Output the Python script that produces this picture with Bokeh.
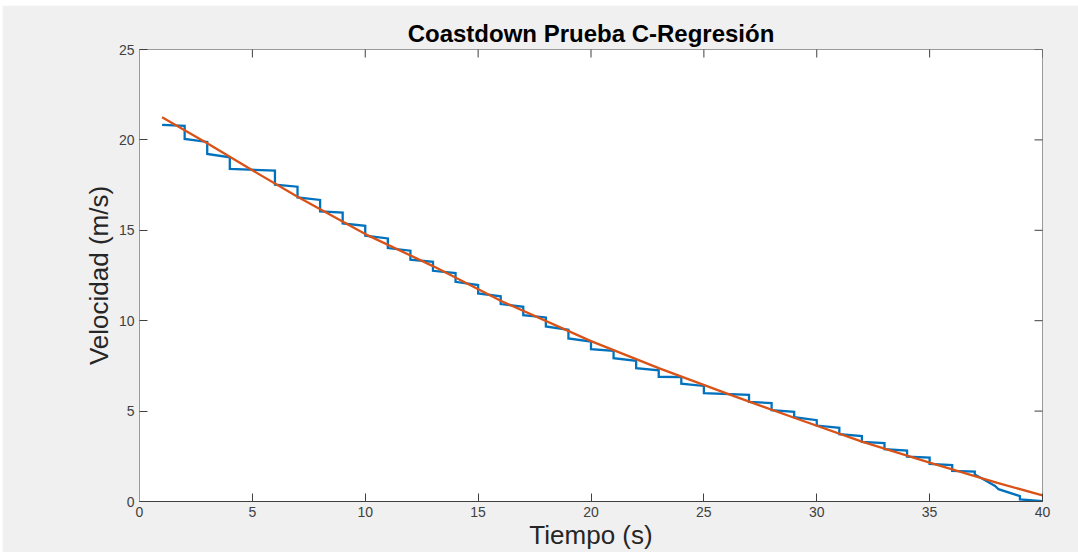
import math
from bokeh.plotting import figure
from bokeh.models import FixedTicker, Range1d
from bokeh.embed import file_html
from bokeh.resources import INLINE

# Measured coastdown speed (vertices of the quantised trace)
tiempo_med = [1, 2, 2, 3, 3, 4, 4, 6, 6, 7, 7, 8, 8, 9, 9, 10, 10, 11, 11, 12,
              12, 13, 13, 14, 14, 15, 15, 16, 16, 17, 17, 18, 18, 19, 19, 20,
              20, 21, 21, 22, 22, 23, 23, 24, 24, 25, 25, 27, 27, 28, 28, 29,
              29, 30, 30, 31, 31, 32, 32, 33, 33, 34, 34, 35, 35, 36, 36, 37,
              37, 37.9, 38.05, 39, 39, 40]
velocidad_med = [20.83, 20.78, 20.05, 19.89, 19.22, 19.04, 18.39, 18.30, 17.52,
                 17.41, 16.82, 16.68, 16.05, 15.98, 15.38, 15.25, 14.70, 14.55,
                 14.02, 13.87, 13.37, 13.26, 12.76, 12.63, 12.15, 11.97, 11.51,
                 11.35, 10.92, 10.77, 10.31, 10.18, 9.68, 9.50, 9.02, 8.85,
                 8.43, 8.33, 7.93, 7.78, 7.37, 7.26, 6.90, 6.88, 6.52, 6.39,
                 5.99, 5.90, 5.51, 5.44, 5.05, 4.96, 4.66, 4.50, 4.20, 4.08,
                 3.72, 3.62, 3.30, 3.23, 2.90, 2.82, 2.48, 2.43, 2.08, 2.02,
                 1.69, 1.65, 1.50, 0.86, 0.68, 0.30, 0.12, 0.02]

# Regression curve values
tiempo_reg = [1, 3, 5, 7, 10, 13, 16, 20, 23, 26, 29, 32, 35, 38, 40]
velocidad_reg = [21.25, 19.81, 18.32, 16.86, 14.79, 13.02, 11.10, 8.87, 7.38,
                 5.98, 4.63, 3.31, 2.15, 1.03, 0.34]

x_ticks = [0, 5, 10, 15, 20, 25, 30, 35, 40]
y_ticks = [0, 5, 10, 15, 20, 25]
x_min, x_max = 0, 40
y_min, y_max = 0, 25

FONT = "Liberation Sans"
AX_DARK = "#404040"
AX_LIGHT = "#9a9a9a"
TICK = "#404040"

p = figure(width=1076, height=547, x_range=Range1d(x_min, x_max),
           y_range=Range1d(y_min, y_max),
           output_backend="svg", toolbar_location=None,
           min_border_left=137, min_border_right=36,
           min_border_top=44, min_border_bottom=51)
p.margin = (5, 0, 0, 2)

p.background_fill_color = "white"
p.border_fill_color = "#f0f0f0"
p.outline_line_color = AX_LIGHT
p.grid.visible = False

p.title.text = "Coastdown Prueba C-Regresión"
p.title.align = "center"
p.title.text_font = FONT
p.title.text_font_size = "24px"
p.title.text_font_style = "bold"
p.title.text_color = "#000000"
p.title.standoff = 5

def style_axis(ax, ticks, color, standoff):
    ax.ticker = FixedTicker(ticks=ticks)
    ax.axis_line_color = color
    ax.axis_line_width = 1
    ax.major_tick_in = 8
    ax.major_tick_out = 0
    ax.major_tick_line_color = TICK
    ax.minor_tick_line_color = None
    ax.major_label_text_font = FONT
    ax.major_label_text_color = "#404040"
    ax.major_label_text_font_size = "14px"
    ax.major_label_standoff = standoff
    ax.axis_label_text_font = FONT
    ax.axis_label_text_font_size = "26px"
    ax.axis_label_text_font_style = "normal"
    ax.axis_label_text_color = "#262626"

xa = p.xaxis[0]
ya = p.yaxis[0]
style_axis(xa, x_ticks, AX_DARK, 5)
style_axis(ya, y_ticks, AX_LIGHT, 5)
xa.axis_label = "Tiempo (s)"
ya.axis_label = "Velocidad (m/s)"
xa.axis_label_standoff = 0
ya.axis_label_standoff = 2

# Inward ticks on the top and right edges of the box (half of each dash is
# clipped away by the frame)
p.scatter(x_ticks, [y_max] * len(x_ticks), marker="dash", size=16,
          angle=math.pi / 2, line_color=TICK, line_width=1)
p.scatter([x_max] * len(y_ticks), y_ticks, marker="dash", size=16,
          line_color=TICK, line_width=1)

p.line(tiempo_med, velocidad_med, line_color="#0072BD", line_width=2.3,
       line_join="miter")
p.line(tiempo_reg, velocidad_reg, line_color="#D95319", line_width=2.3)

open("out.html", "w").write(file_html(p, INLINE))
